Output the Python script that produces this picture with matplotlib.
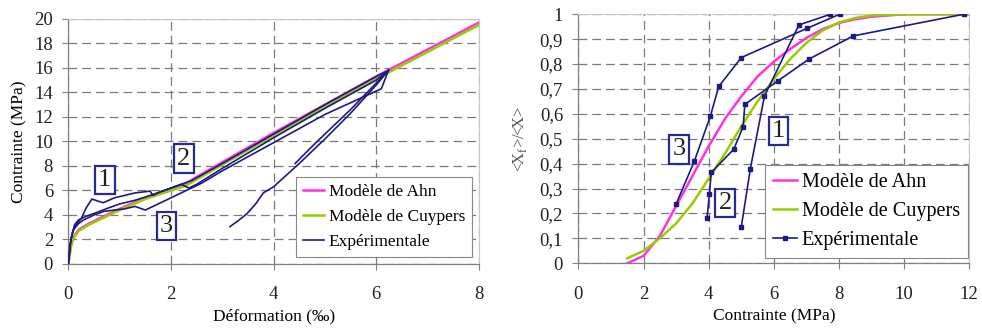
import matplotlib
matplotlib.use("Agg")
import matplotlib.pyplot as plt
from matplotlib.ticker import FuncFormatter

plt.rcParams['font.family'] = ['Liberation Serif', 'DejaVu Serif']
plt.rcParams['font.size'] = 11

# ---------------- Left chart data ----------------
model_x = [0, 0.05, 0.1, 0.2, 0.4, 0.6, 0.8, 1.0, 1.5, 2.0, 2.3, 2.5, 3, 4, 5, 6, 7, 8]
ahn_y = [0, 1.5, 2.2, 2.8, 3.3, 3.7, 4.1, 4.5, 5.4, 6.1, 6.6, 7.1, 8.3, 10.7, 13.0, 15.3, 17.5, 19.7]
cuy_y = [0, 1.4, 2.1, 2.7, 3.2, 3.6, 4.0, 4.4, 5.3, 6.0, 6.4, 6.9, 8.1, 10.5, 12.8, 15.1, 17.3, 19.5]

exp1_x = [0, 0.03, 0.08, 0.15, 0.25, 0.35, 0.46, 0.6, 0.68, 0.9, 1.1, 1.3, 1.5, 1.59, 1.65, 1.8, 2.0, 2.2, 2.4, 3, 4, 5, 6, 6.24]
exp1_y = [0, 1.5, 2.6, 3.2, 3.7, 4.6, 5.3, 5.1, 5.0, 5.4, 5.6, 5.8, 5.9, 5.95, 5.6, 5.9, 6.2, 6.5, 6.8, 8.2, 10.6, 13.0, 15.3, 15.8]
exp2_x = [0, 0.05, 0.12, 0.2, 0.35, 0.55, 0.8, 1.0, 1.3, 1.6, 2.0, 2.2, 2.35, 2.5, 3, 4, 5, 6, 6.24]
exp2_y = [0, 2.0, 3.2, 3.6, 3.9, 4.2, 4.6, 4.9, 5.2, 5.6, 6.2, 6.5, 6.2, 6.5, 7.8, 10.3, 12.7, 15.0, 15.8]
exp3_x = [0, 0.05, 0.1, 0.2, 0.3, 0.5, 0.7, 0.9, 1.1, 1.3, 1.5, 1.7, 2.0, 2.3, 2.6, 3, 4, 5, 6.1, 6.24]
exp3_y = [0, 2.0, 2.8, 3.3, 3.6, 4.0, 4.3, 4.4, 4.5, 4.7, 4.4, 4.8, 5.4, 6.0, 6.6, 7.6, 9.9, 12.2, 14.3, 15.8]
unl1_x = [4.42, 4.8, 5.5, 6.24]
unl1_y = [8.2, 9.8, 12.6, 15.8]
unl2_x = [3.15, 3.3, 3.48, 3.65, 3.8, 4.0, 4.5, 5.0, 5.5, 6.0, 6.24]
unl2_y = [3.05, 3.5, 4.1, 4.9, 5.8, 6.3, 8.2, 10.2, 12.3, 14.6, 15.8]

# ---------------- Right chart data ----------------
rx = [1.5, 2.0, 2.5, 3.0, 3.5, 4.0, 4.5, 5.0, 5.5, 6.0, 6.5, 7.0, 7.5, 8.0, 8.5, 9, 10, 11, 12]
r_ahn = [0, 0.03, 0.11, 0.23, 0.35, 0.47, 0.58, 0.67, 0.75, 0.81, 0.86, 0.905, 0.94, 0.965, 0.98, 0.99, 1.0, 1.0, 1.0]
r_cuy = [0.02, 0.05, 0.1, 0.16, 0.24, 0.34, 0.44, 0.55, 0.65, 0.74, 0.82, 0.885, 0.935, 0.967, 0.985, 0.995, 1.0, 1.0, 1.0]

rexp1_x = [5.0, 5.28, 5.71, 6.77, 7.74]
rexp1_y = [0.145, 0.38, 0.67, 0.957, 1.0]
rexp2_x = [3.95, 4.02, 4.08, 4.77, 5.06, 5.11, 6.12, 7.08, 8.44, 11.83]
rexp2_y = [0.18, 0.277, 0.365, 0.458, 0.549, 0.638, 0.732, 0.82, 0.913, 1.0]
rexp3_x = [3.0, 3.56, 4.05, 4.31, 5.0, 7.03, 8.02]
rexp3_y = [0.238, 0.41, 0.59, 0.71, 0.826, 0.944, 1.0]

labels = ["Modèle de Ahn", "Modèle de Cuypers", "Expérimentale"]
C_AHN = "#ff33dd"
C_CUY = "#99cc00"
C_EXP = "#1c1c80"
GRID = "#7a7a7a"

fig = plt.figure(figsize=(9.82, 3.29), dpi=100)
ax1 = fig.add_axes([0.0696, 0.1976, 0.418, 0.745])
ax2 = fig.add_axes([0.589, 0.1997, 0.398, 0.757])


def style(ax):
    ax.grid(True, color=GRID, linestyle=(0, (7, 4)), linewidth=0.9)
    ax.set_axisbelow(True)
    for s in ['top', 'right']:
        ax.spines[s].set_color('#c8c8c8')
        ax.spines[s].set_linewidth(0.8)
    for s in ['left', 'bottom']:
        ax.spines[s].set_color('#808080')
        ax.spines[s].set_linewidth(0.9)
    ax.tick_params(direction='out', length=4, color='#808080', labelsize=13.5,
                   labelcolor='#222222')
    ax.tick_params(axis='x', pad=12)
    ax.tick_params(axis='y', pad=7)


def boxlabel(ax, x, y, t):
    ax.text(x, y, t, fontsize=19, ha='center', va='center', color='#222222',
            bbox=dict(boxstyle='square,pad=0.12', fc='white', ec='#2a2a8a', lw=1.6),
            zorder=6)

# ---- Left ----
style(ax1)
ax1.plot(model_x, ahn_y, color=C_AHN, lw=1.8, label=labels[0], zorder=3)
ax1.plot(model_x, cuy_y, color=C_CUY, lw=1.8, label=labels[1], zorder=3)
ax1.plot(exp1_x, exp1_y, color=C_EXP, lw=1.2, label=labels[2], zorder=4)
for xs, ys in [(exp2_x, exp2_y), (exp3_x, exp3_y), (unl1_x, unl1_y), (unl2_x, unl2_y)]:
    ax1.plot(xs, ys, color=C_EXP, lw=1.2, zorder=4)
ax1.set_xlim(0, 8)
ax1.set_ylim(0, 20)
ax1.set_xticks([0, 2, 4, 6, 8])
ax1.set_yticks(range(0, 21, 2))
ax1.set_xlabel("Déformation (‰)", fontsize=12.5, labelpad=4)
ax1.set_ylabel("Contrainte (MPa)", fontsize=12.5, labelpad=5)
leg1 = ax1.legend(loc='lower right', bbox_to_anchor=(0.983, 0.03), borderaxespad=0,
                  fontsize=12.5,
                  frameon=True, fancybox=False, edgecolor='#888888', framealpha=1,
                  handlelength=1.2, handletextpad=0.25, borderpad=0.4, labelspacing=0.5)
leg1.get_frame().set_linewidth(0.8)
boxlabel(ax1, 0.71, 6.86, "1")
boxlabel(ax1, 2.25, 8.6, "2")
boxlabel(ax1, 1.91, 3.1, "3")

# ---- Right ----
style(ax2)
ax2.plot(rx, r_ahn, color=C_AHN, lw=1.8, label=labels[0], zorder=3)
ax2.plot(rx, r_cuy, color=C_CUY, lw=1.8, label=labels[1], zorder=3)
ax2.plot(rexp1_x, rexp1_y, color=C_EXP, lw=1.2, marker='s', ms=2.5, label=labels[2], zorder=4)
ax2.plot(rexp2_x, rexp2_y, color=C_EXP, lw=1.2, marker='s', ms=2.5, zorder=4)
ax2.plot(rexp3_x, rexp3_y, color=C_EXP, lw=1.2, marker='s', ms=2.5, zorder=4)
ax2.set_xlim(0, 12)
ax2.set_ylim(0, 1)
ax2.set_xticks(range(0, 13, 2))
ax2.set_yticks([i / 10 for i in range(11)])
ax2.yaxis.set_major_formatter(FuncFormatter(lambda v, p: ("%g" % round(v, 1)).replace('.', ',')))
ax2.set_xlabel("Contrainte (MPa)", fontsize=12.5, labelpad=4)
ax2.set_ylabel(r"<X$_\mathregular{f}$>/<X>", fontsize=12, labelpad=8, color='#555555')
leg2 = ax2.legend(loc='lower right', bbox_to_anchor=(0.997, 0.02), borderaxespad=0,
                  fontsize=14.5,
                  frameon=True, fancybox=False, edgecolor='#888888', framealpha=1,
                  handlelength=1.2, handletextpad=0.25, borderpad=0.4, labelspacing=0.5)
leg2.get_frame().set_linewidth(0.8)
boxlabel(ax2, 6.14, 0.53, "1")
boxlabel(ax2, 4.51, 0.242, "2")
boxlabel(ax2, 3.09, 0.457, "3")

fig.savefig("out.png", dpi=100)
